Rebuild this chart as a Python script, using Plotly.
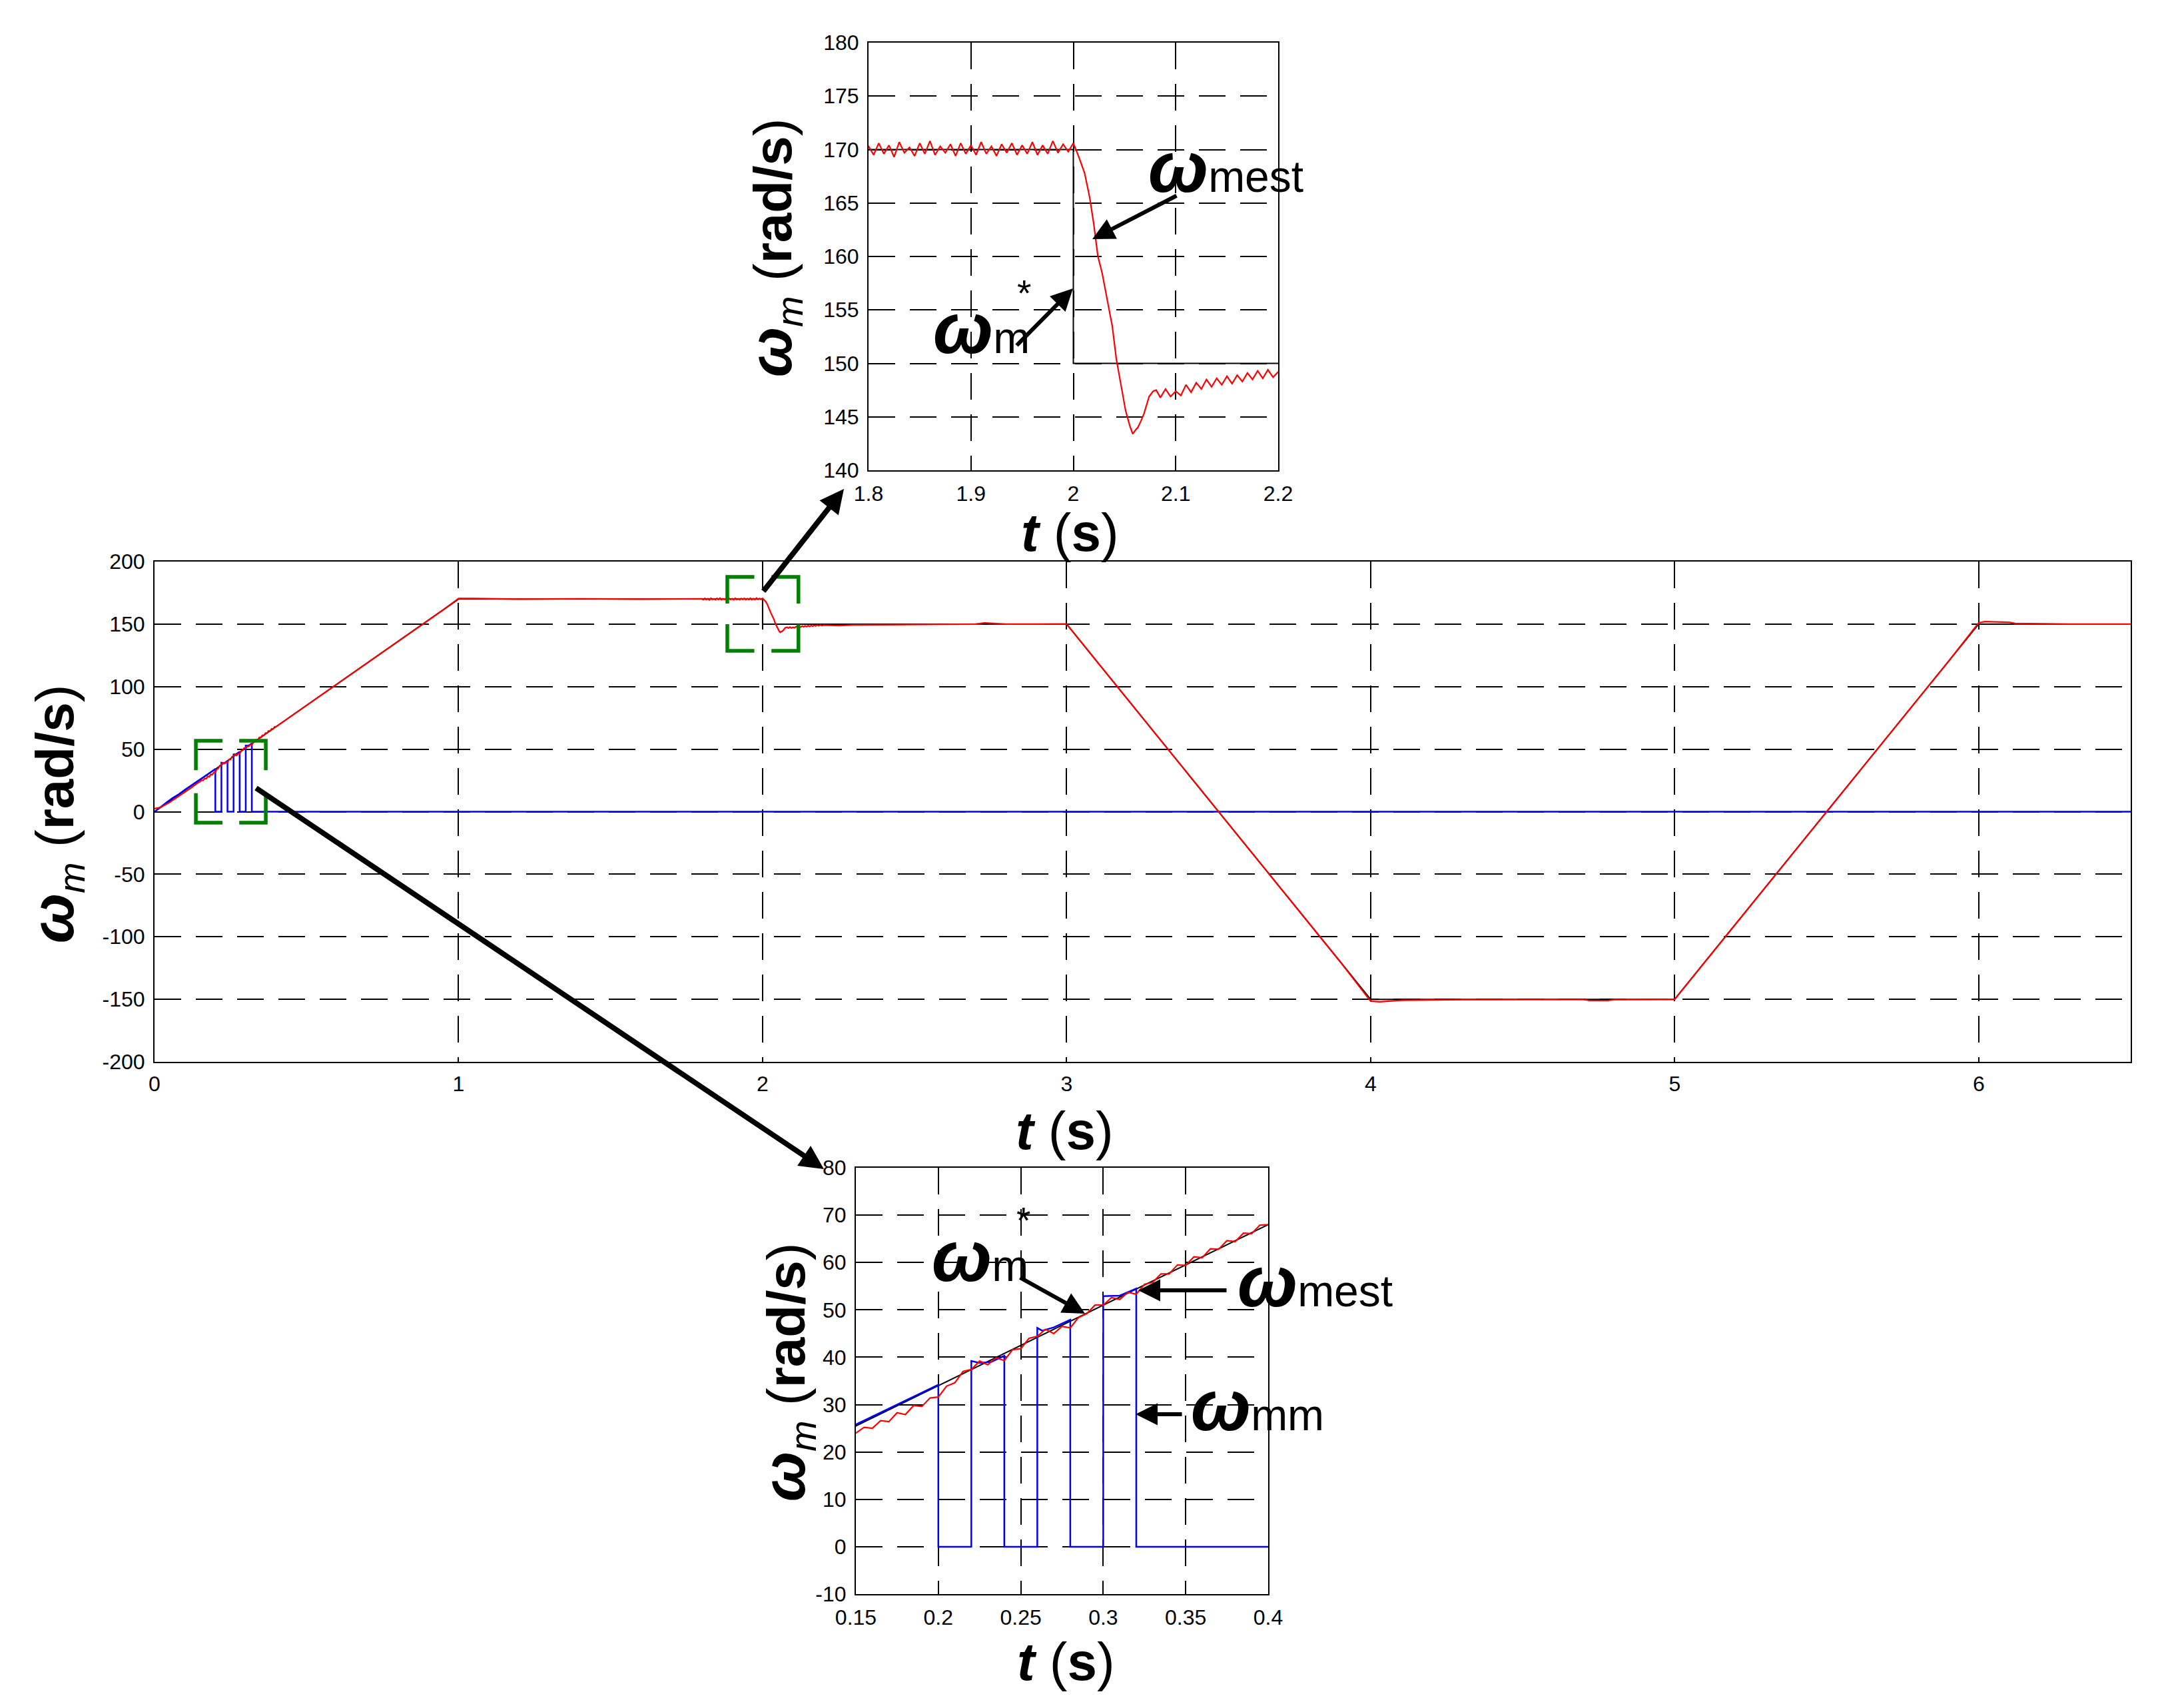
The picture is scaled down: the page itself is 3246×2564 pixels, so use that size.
import plotly.graph_objects as go

W, H = 3246, 2564
OFF = 8  # page body margin of the browser, compensated
FONT = "Liberation Sans, Arial, sans-serif"

# ---------------- data ----------------
# reference speed w_m*
t_ref = [0, 1, 2, 2, 3, 4, 5, 6, 6.5]
w_ref = [0, 170, 170, 150, 150, -150, -150, 150, 150]

# measured speed w_mm (encoder, drops to zero)
t_mm = [0, 0.02, 0.04, 0.06, 0.08, 0.1, 0.12, 0.15, 0.175, 0.2, 0.2, 0.22, 0.22, 0.225,
        0.232, 0.24, 0.24, 0.26, 0.26, 0.263, 0.27, 0.28, 0.28, 0.3, 0.3, 0.31, 0.32, 0.32, 6.5]
w_mm = [0, 4, 7.5, 11, 14, 17.5, 21, 25.8, 30, 34.2, 0, 0, 39.2, 38.8,
        39.0, 40.3, 0, 0, 46.2, 45.6, 46.3, 47.9, 0, 0, 52.9, 53.0, 54.5, 0, 0]

# estimated speed w_mest, read piecewise
t_est_a = [0, 0.02, 0.05, 0.08, 0.1, 0.12, 0.145]
w_est_a = [2.5, 3.5, 7.5, 12.5, 15.5, 19.0, 23.5]

t_est_b = [0.150, 0.155, 0.160, 0.165, 0.170, 0.175, 0.180, 0.185, 0.190, 0.195,
           0.200, 0.205, 0.210, 0.215, 0.220, 0.225, 0.230, 0.235, 0.240, 0.245,
           0.250, 0.255, 0.260, 0.265, 0.270, 0.275, 0.280, 0.285, 0.290, 0.295,
           0.300, 0.305, 0.310, 0.315, 0.320, 0.325, 0.330, 0.335, 0.340, 0.345,
           0.350, 0.355, 0.360, 0.365, 0.370, 0.375, 0.380, 0.385, 0.390, 0.395, 0.400]
w_est_b = [24.0, 25.2, 25.0, 26.6, 26.4, 28.3, 27.9, 29.8, 29.6, 31.4,
           31.6, 33.9, 34.6, 37.0, 37.4, 39.2, 38.4, 39.9, 39.3, 41.6,
           41.8, 44.0, 44.4, 45.9, 45.0, 46.5, 46.2, 48.4, 49.2, 51.0,
           51.0, 52.6, 52.2, 53.7, 53.3, 55.4, 55.8, 57.6, 57.6, 59.5,
           59.4, 61.2, 61.0, 62.9, 62.8, 64.6, 64.4, 66.2, 66.1, 67.9, 68.0]

t_est_c = [0.45, 0.5, 0.6, 0.7, 0.8, 0.9, 0.95, 1.0, 1.05, 1.2, 1.4, 1.6, 1.75]
w_est_c = [76.5, 85, 102, 119, 136, 153, 161.5, 170.5, 170.5, 170, 170.3, 170, 170.2]

t_est_d = [1.800, 1.805, 1.810, 1.815, 1.820, 1.825, 1.830, 1.835, 1.840, 1.845,
           1.850, 1.855, 1.860, 1.865, 1.870, 1.875, 1.880, 1.885, 1.890, 1.895,
           1.900, 1.905, 1.910, 1.915, 1.920, 1.925, 1.930, 1.935, 1.940, 1.945,
           1.950, 1.955, 1.960, 1.965, 1.970, 1.975, 1.980, 1.985, 1.990, 1.995, 2.000]
w_est_d = [170.3, 169.5, 170.6, 169.6, 170.4, 169.3, 170.7, 169.7, 170.2, 169.4,
           170.6, 169.6, 170.8, 169.5, 170.3, 169.7, 170.5, 169.4, 170.6, 169.6,
           170.4, 169.5, 170.7, 169.6, 170.3, 169.4, 170.5, 169.7, 170.6, 169.5,
           170.4, 169.6, 170.7, 169.5, 170.4, 169.6, 170.8, 169.7, 170.5, 169.8, 170.6]

t_est_e = [2.005, 2.011, 2.016, 2.020, 2.024, 2.028, 2.031, 2.035, 2.038, 2.042,
           2.045, 2.047, 2.051, 2.055, 2.058, 2.061, 2.063, 2.066, 2.069, 2.074,
           2.078, 2.081]
w_est_e = [169.4, 167.8, 165.5, 163.0, 160.0, 158.5, 157.0, 155.0, 153.5, 150.4,
           148.8, 147.8, 145.6, 144.2, 143.4, 143.8, 144.0, 144.6, 145.3, 146.9,
           147.4, 147.5]

t_est_f = [2.085, 2.090, 2.095, 2.100, 2.105, 2.110, 2.115, 2.120, 2.125, 2.130,
           2.135, 2.140, 2.145, 2.150, 2.155, 2.160, 2.165, 2.170, 2.175, 2.180,
           2.185, 2.190, 2.195, 2.200]
w_est_f = [146.8, 147.6, 146.9, 147.4, 147.0, 148.0, 147.3, 148.2, 147.6, 148.5,
           147.8, 148.6, 148.0, 148.8, 148.1, 148.9, 148.3, 149.1, 148.5, 149.3,
           148.6, 149.4, 148.7, 149.2]

t_est_g = [2.25, 2.3, 2.4, 2.5, 2.6, 2.7, 2.73, 2.76, 2.8, 2.9, 3.0,
           3.1, 3.25, 3.5, 3.75, 3.9, 4.0, 4.03, 4.1,
           4.3, 4.5, 4.7, 4.72, 4.78, 4.8, 4.95, 5.0,
           5.1, 5.25, 5.5, 5.75, 5.9, 6.0, 6.02, 6.1, 6.12, 6.3, 6.5]
w_est_g = [148.8, 149.3, 149.5, 149.8, 149.8, 150.0, 151.0, 150.6, 150.0, 150.0, 150.2,
           120, 75, 0, -75, -120, -151.5, -152, -150.8,
           -150.3, -150.2, -150.2, -151, -151, -150.3, -150.1, -150,
           -120, -75, 0, 75, 120, 151, 152, 151.5, 150.5, 150, 150]

t_est = t_est_a + t_est_b + t_est_c + t_est_d + t_est_e + t_est_f + t_est_g
w_est = w_est_a + w_est_b + w_est_c + w_est_d + w_est_e + w_est_f + w_est_g

# axis ticks
main_xticks = [0, 1, 2, 3, 4, 5, 6]
main_yticks = [-200, -150, -100, -50, 0, 50, 100, 150, 200]
main_ylabels = ["-200", "-150", "-100", "-50", "0", "50", "100", "150", "200"]
top_xticks = [1.8, 1.9, 2.0, 2.1, 2.2]
top_xlabels = ["1.8", "1.9", "2", "2.1", "2.2"]
top_yticks = [140, 145, 150, 155, 160, 165, 170, 175, 180]
bot_xticks = [0.15, 0.2, 0.25, 0.3, 0.35, 0.4]
bot_xlabels = ["0.15", "0.2", "0.25", "0.3", "0.35", "0.4"]
bot_yticks = [-10, 0, 10, 20, 30, 40, 50, 60, 70, 80]
bot_ylabels = ["-10", "0", "10", "20", "30", "40", "50", "60", "70", "80"]

# zoom boxes drawn on the main axes (data units)
box_low = (0.136, 0.366, -8.8, 56.7)
box_high = (1.884, 2.118, 128.6, 187.7)


def pxx(x):
    return (x - OFF) / W


def pxy(y):
    return 1 - (y - OFF) / H


fig = go.Figure()

for ax in ["", "2", "3"]:
    xa, ya = "x" + ax, "y" + ax
    fig.add_trace(go.Scatter(x=t_ref, y=w_ref, mode="lines", line=dict(color="black", width=2),
                             xaxis=xa, yaxis=ya, showlegend=False, hoverinfo="skip"))
    fig.add_trace(go.Scatter(x=t_mm, y=w_mm, mode="lines", line=dict(color="#0000ff", width=2.5),
                             xaxis=xa, yaxis=ya, showlegend=False, hoverinfo="skip"))
    fig.add_trace(go.Scatter(x=t_est, y=w_est, mode="lines", line=dict(color="#ff0000", width=2.2),
                             xaxis=xa, yaxis=ya, showlegend=False, hoverinfo="skip"))

grid = dict(showgrid=True, gridcolor="black", gridwidth=2, griddash="40px,22px",
            showline=True, linecolor="black", linewidth=2, mirror=True, zeroline=False,
            ticks="", automargin=False,
            tickfont=dict(family=FONT, size=32, color="black"))

fig.update_layout(
    template="none",
    width=W, height=H, autosize=False,
    margin=dict(l=0, r=0, t=0, b=0, pad=0),
    paper_bgcolor="white", plot_bgcolor="white",
    showlegend=False,
    xaxis=dict(domain=[pxx(232), pxx(3199)], range=[0, 6.5], tickvals=main_xticks,
               anchor="y", ticklabelstandoff=4, **grid),
    yaxis=dict(domain=[pxy(1594), pxy(843)], range=[-200, 200], tickvals=main_yticks,
               ticktext=main_ylabels, anchor="x", ticklabelstandoff=6, **grid),
    xaxis2=dict(domain=[pxx(1304), pxx(1919)], range=[1.8, 2.2], tickvals=top_xticks,
                ticktext=top_xlabels, anchor="y2", ticklabelstandoff=6, **grid),
    yaxis2=dict(domain=[pxy(706), pxy(64)], range=[140, 180], tickvals=top_yticks,
                anchor="x2", ticklabelstandoff=6, **grid),
    xaxis3=dict(domain=[pxx(1285), pxx(1904)], range=[0.15, 0.4], tickvals=bot_xticks,
                ticktext=bot_xlabels, anchor="y3", ticklabelstandoff=6, **grid),
    yaxis3=dict(domain=[pxy(2393), pxy(1753)], range=[-10, 80], tickvals=bot_yticks,
                ticktext=bot_ylabels, anchor="x3", ticklabelstandoff=6, **grid),
)


def bracket_path(b, fx=0.38, fy=0.36):
    x0, x1, y0, y1 = b
    ax_ = (x1 - x0) * fx
    ay_ = (y1 - y0) * fy
    return (f"M{x0},{y0 + ay_} L{x0},{y0} L{x0 + ax_},{y0} "
            f"M{x1 - ax_},{y0} L{x1},{y0} L{x1},{y0 + ay_} "
            f"M{x1},{y1 - ay_} L{x1},{y1} L{x1 - ax_},{y1} "
            f"M{x0 + ax_},{y1} L{x0},{y1} L{x0},{y1 - ay_}")


for b in (box_low, box_high):
    fig.add_shape(type="path", path=bracket_path(b), xref="x", yref="y",
                  line=dict(color="#008000", width=5.5))

annotations = []


def arrow(tail, tip, width=6, size=1.1):
    annotations.append(dict(
        x=pxx(tip[0]), y=pxy(tip[1]), xref="paper", yref="paper",
        ax=tail[0] - tip[0], ay=tail[1] - tip[1], axref="pixel", ayref="pixel",
        text="", showarrow=True, arrowhead=2, arrowsize=size, arrowwidth=width,
        arrowcolor="black", standoff=0, startstandoff=0))


def label(text, x, y, size, xanchor="left", yanchor="middle", angle=0):
    annotations.append(dict(
        x=pxx(x), y=pxy(y), xref="paper", yref="paper", text=text, showarrow=False,
        xanchor=xanchor, yanchor=yanchor, textangle=angle,
        font=dict(family=FONT, size=size, color="black")))


# connecting arrows
arrow((383, 1182), (1237, 1755), width=8, size=0.9)
arrow((1145, 889), (1267, 734), width=8, size=0.9)
# inset arrows
arrow((1768, 293), (1640, 359))
arrow((1525, 520), (1611, 433))
arrow((1530, 1917), (1629, 1972))
arrow((1843, 1937), (1709, 1937))
arrow((1776, 2123), (1705, 2123))

W_EST = "<b><i>ω</i></b><span style='font-size:66px'>mest</span>"
W_M = "<b><i>ω</i></b><span style='font-size:66px'>m</span>"
W_MM = "<b><i>ω</i></b><span style='font-size:66px'>mm</span>"

label(W_EST, 1722, 250, 108)
label(W_M, 1399, 492, 108)
label("*", 1537, 440, 55, xanchor="center")
label(W_M, 1397, 1886, 108)
label("*", 1536, 1832, 55, xanchor="center")
label(W_EST, 1856, 1923, 108)
label(W_MM, 1786, 2109, 108)

YT = ("<b><i><span style='font-size:90px'>ω</span></i></b><i><sub>m</sub></i>"
      " (<b>rad/s</b>)")
XT = "<b><i>t</i></b> (<b>s</b>)"
label(YT, 84, 1222, 80, xanchor="center", angle=-90)
label(XT, 1598, 1697, 80, xanchor="center")
label(YT, 1162, 372, 80, xanchor="center", angle=-90)
label(XT, 1606, 799, 80, xanchor="center")
label(YT, 1182, 2060, 80, xanchor="center", angle=-90)
label(XT, 1600, 2494, 80, xanchor="center")

fig.update_layout(annotations=annotations)

fig.write_html("out.html")
